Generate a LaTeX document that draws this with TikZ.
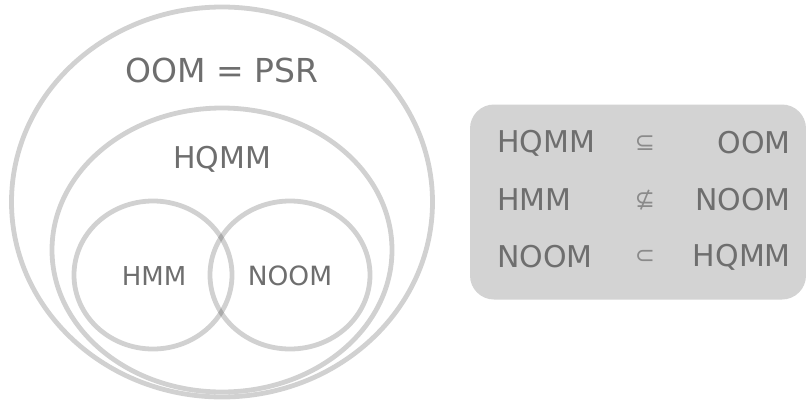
\documentclass[tikz,border=0pt]{standalone}
\usepackage{fontspec}
\setmainfont{DejaVu Sans}
\usetikzlibrary{shapes.geometric}
\definecolor{txt}{HTML}{6E6E6E}
\definecolor{symc}{HTML}{8A8A8A}
\definecolor{boxc}{HTML}{D3D3D3}
\begin{document}
\begin{tikzpicture}[x=1pt,y=-1pt,
  ring/.style={ellipse,draw=black,draw opacity=0.18,line width=4.8pt,inner sep=0pt},
  lbl/.style={text=txt,inner sep=0pt,anchor=center},
  setl/.style={text=txt,inner sep=0pt,font=\fontsize{30}{30}\selectfont},
  rel/.style={text=symc,inner sep=0pt,font=\fontsize{24}{24}\selectfont}]
\useasboundingbox (0,0) rectangle (806,400);
% Venn part
\node[ring,minimum width=421pt,minimum height=390pt] (oom) at (222,202) {};
\node[ring,minimum width=340pt,minimum height=284pt] (hqmm) at (222,250) {};
\node[ring,minimum width=158pt,minimum height=148pt] (hmm) at (153,275) {};
\node[ring,minimum width=160pt,minimum height=148pt] (noom) at (290,275) {};
\node[lbl,font=\fontsize{33}{33}\selectfont] (toom) at (222,70) {OOM = PSR};
\node[lbl,font=\fontsize{30}{30}\selectfont] (thqmm) at (222,159) {HQMM};
\node[lbl,font=\fontsize{26}{26}\selectfont] (thmm) at (154,276) {HMM};
\node[lbl,font=\fontsize{26.5}{26.5}\selectfont] (tnoom) at (290,276) {NOOM};
% relation box
\node[fill=boxc,rounded corners=24pt,minimum width=336pt,minimum height=195pt,inner sep=0pt] (box) at (638,202) {};
\node[setl,anchor=west] (l1) at (497,143) {HQMM};
\node[setl,anchor=west] (l2) at (497,200) {HMM};
\node[setl,anchor=west] (l3) at (497,257) {NOOM};
\node[rel] (r1) at (645,143) {⊆};
\node[rel] (r2) at (645,200) {⊈};
\node[rel] (r3) at (645,257) {⊂};
\node[setl,anchor=east] (g1) at (791,143) {OOM};
\node[setl,anchor=east] (g2) at (791,200) {NOOM};
\node[setl,anchor=east] (g3) at (791,257) {HQMM};
\end{tikzpicture}
\end{document}
